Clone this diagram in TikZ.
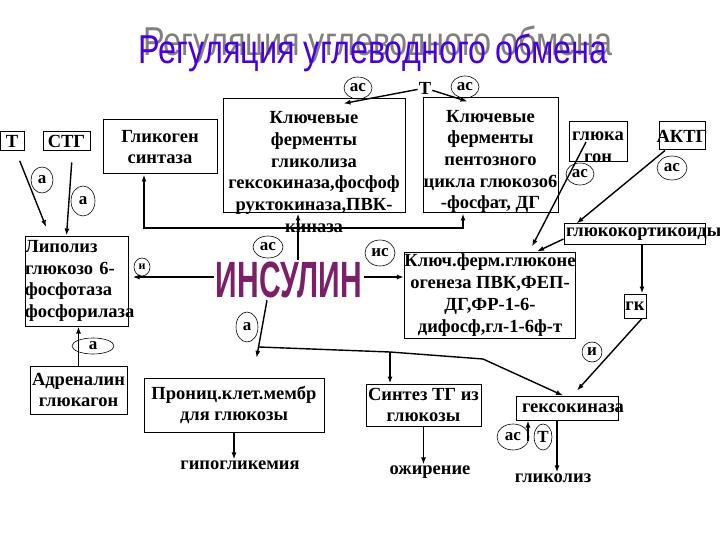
\documentclass[tikz,border=0pt]{standalone}
\usepackage{graphicx}
\usepackage{fontspec}
\setmainfont{Liberation Serif}
\newfontfamily\headfont{Liberation Sans}
\usetikzlibrary{positioning,arrows.meta,shapes.geometric}
\definecolor{titleblue}{RGB}{72,0,226}
\definecolor{shadowgray}{RGB}{128,128,128}
\definecolor{insred}{RGB}{125,30,105}
\newcommand{\boxfont}{\fontsize{18.5}{21.7}\selectfont\bfseries}
\newcommand{\ovalfont}{\fontsize{17}{17}\selectfont\bfseries}

\begin{document}
\begin{tikzpicture}[
  x=1pt, y=-1pt,
  box/.style={draw, line width=1pt, inner sep=0pt, align=center, font=\boxfont},
  plain/.style={inner sep=1pt, align=center, font=\boxfont},
  oval/.style={ellipse, draw, line width=0.6pt, inner sep=0pt, font=\ovalfont},
  arr/.style={-{Latex[length=7pt,width=5pt]}, line width=1.4pt},
  link/.style={line width=1.2pt}]

\useasboundingbox (0,0) rectangle (720,540);

% title
\node[font=\headfont\fontsize{36}{36}\selectfont, text=shadowgray] (titleshadow) at (378,45)
  {\scalebox{0.9}[1.12]{Регуляция углеводного обмена}};
\node[font=\headfont\fontsize{36}{36}\selectfont, text=titleblue] (title) at (373,53)
  {\scalebox{0.9}[1.12]{Регуляция углеводного обмена}};

% boxes
\node[box, minimum width=24pt, minimum height=19pt] (tbox) at (12,141.5) {Т};
\node[box, minimum width=47pt, minimum height=19pt] (stg) at (66.5,141.5) {СТГ};
\node[box, minimum width=114pt, minimum height=54pt] (gsyn) at (160,147) {Гликоген\\синтаза};
\node[box, minimum width=182pt, minimum height=114pt,
      label={[plain, yshift=-16pt]center:{Ключевые\\ферменты\\гликолиза\\гексокиназа,фосфоф\\руктокиназа,ПВК-\\киназа}}]
      (glyc) at (314,156) {};
\node[box, minimum width=135pt, minimum height=115pt,
      label={[plain, yshift=-6pt]center:{Ключевые\\ферменты\\пентозного\\цикла глюкозо6\\-фосфат, ДГ}}]
      (pent) at (490.5,155.5) {};
\node[box, minimum width=58pt, minimum height=40pt,
      label={[plain, yshift=-5pt]center:{глюка\\гон}}] (glc) at (598,142) {};
\node[box, minimum width=46pt, minimum height=28pt] (aktg) at (682,136) {\makebox[46pt][c]{АКТГ}};
\node[box, minimum width=141pt, minimum height=20pt] (gcort) at (634.5,234)
  {\makebox[141pt][l]{\hspace{2pt}глюкокортикоиды}};
\node[box, minimum width=170pt, minimum height=86pt] (gng) at (490,295)
  {Ключ.ферм.глюконе\\огенеза ПВК,ФЕП-\\ДГ,ФР-1-6-\\дифосф,гл-1-6ф-т};
\node[box, minimum width=22pt, minimum height=24pt] (gk) at (635,306) {гк};
\node[box, align=left, text width=103pt, minimum height=90pt] (lip) at (76.5,281)
  {Липолиз\\глюкозо 6-\\фосфотаза\\фосфорилаза};
\node[box, minimum width=97pt, minimum height=48pt] (adr) at (78.5,390) {Адреналин\\глюкагон};
\node[box, minimum width=180pt, minimum height=54pt] (perm) at (234,405) {Прониц.клет.мембр\\для глюкозы};
\node[box, minimum width=115pt, minimum height=42pt] (syn) at (423.5,405) {Синтез ТГ из\\глюкозы};
\node[box, minimum width=102pt, minimum height=24pt] (hk) at (567,408)
  {\makebox[102pt][l]{\hspace{6pt}гексокиназа}};

% outcomes
\node[plain] (hypo) at (240,465) {гипогликемия};
\node[plain] (obes) at (430,472) {ожирение};
\node[plain] (glys) at (553,478) {гликолиз};

% insulin
\node[font=\headfont\bfseries\fontsize{50}{50}\selectfont, text=insred, inner sep=2pt] (ins) at (289,280)
  {\scalebox{0.6}[1.02]{ИНСУЛИН}};
\node[plain] (tlab) at (425,88) {Т};

% ovals
\node[oval, minimum width=22pt, minimum height=26pt] (aT) at (42,180) {а};
\node[oval, minimum width=24pt, minimum height=30pt] (aS) at (83,201) {а};
\node[oval, minimum width=28pt, minimum height=22pt] (asG) at (358,88) {ас};
\node[oval, minimum width=28pt, minimum height=22pt] (asP) at (465,87) {ас};
\node[oval, minimum width=28pt, minimum height=22pt] (asC) at (580,174) {ас};
\node[oval, minimum width=30pt, minimum height=24pt] (asA) at (672,168) {ас};
\node[oval, minimum width=30pt, minimum height=22pt] (asI) at (268,247) {ас};
\node[oval, minimum width=30pt, minimum height=26pt] (isI) at (380,253) {ис};
\node[oval, minimum width=16pt, minimum height=18pt, font=\fontsize{12}{12}\selectfont\bfseries] (iL) at (142,267) {и};
\node[oval, minimum width=22pt, minimum height=30pt] (aI) at (247,327) {а};
\node[oval, minimum width=42pt, minimum height=16pt] (aA) at (93,346) {а};
\node[oval, minimum width=20pt, minimum height=20pt] (iK) at (592,352) {и};
\node[oval, minimum width=32pt, minimum height=26pt] (asH) at (513,437) {ас};
\node[oval, minimum width=18pt, minimum height=26pt] (tH) at (543,437) {Т};

% connectors
\coordinate (busL) at (144,228);
\coordinate (busR) at (463,228);
\coordinate (insup) at ([xshift=9pt]ins.north);
\coordinate (jn) at (259,347);
\coordinate (jbr) at (390,352);
\coordinate (jkn) at (483,359);
\coordinate (gkin) at ([xshift=7pt]gk.north);
\coordinate (hkdown) at ([xshift=-10pt]hk.south);
\coordinate (hkin) at ([xshift=-39pt]hk.south);

\draw[arr, shorten <=10pt, shorten >=9pt] ([xshift=4pt]tbox.south) -- ([xshift=-27pt]lip.north);
\draw[arr, shorten <=11pt] ([xshift=6pt]stg.south) -- ([xshift=-10pt]lip.north);
\draw[{Latex[length=7pt,width=5pt]}-{Latex[length=7pt,width=5pt]}, line width=1.4pt]
  (busL |- gsyn.south) -- (busL) -- (busR) -- (busR |- pent.south);
\draw[arr] (insup) -- (insup |- glyc.south);
\draw[arr, shorten >=4pt] ([yshift=3pt]ins.west) -- ([yshift=3pt]ins.west -| lip.east);
\draw[arr] ([yshift=3pt]ins.east) -- ([yshift=3pt]ins.east -| gng.west);
\draw[arr, shorten >=20pt] ([xshift=-22pt]ins.south) -- ([xshift=19pt]perm.north);
\draw[arr] (jn) -- (jbr) -- (jkn) -- ([xshift=-4pt]hk.north);
\draw[arr] (jbr) -- (jbr |- syn.north);
\draw[arr] (tlab) -- ([xshift=-62pt,yshift=-5pt]glyc.north east);
\draw[arr] (tlab) -- ([xshift=-23pt,yshift=-4pt]pent.north);
\draw[arr] ([xshift=-12pt]glc.center) -- ([xshift=42pt,yshift=5pt]gng.north);
\draw[arr] ([xshift=-17pt]aktg.south) -- ([xshift=13pt]gcort.north west);
\draw[arr] ([yshift=-5pt]gcort.west) -- ([xshift=47pt]gng.north);
\draw[arr] (gkin |- gcort.south) -- (gkin);
\draw[arr] ([xshift=7pt]gk.south) -- ([xshift=10pt,yshift=5pt]hk.north);
\draw[arr] (adr.north) -- (adr.north |- lip.south);
\draw[arr] (perm.south) -- (perm.south |- hypo.north);
\draw[arr] (syn.south) -- (syn.south |- obes.north);
\draw[arr] (hkdown) -- (hkdown |- glys.north);
\draw[arr] ([yshift=-20pt]hkin) -- (hkin);
\end{tikzpicture}
\end{document}
